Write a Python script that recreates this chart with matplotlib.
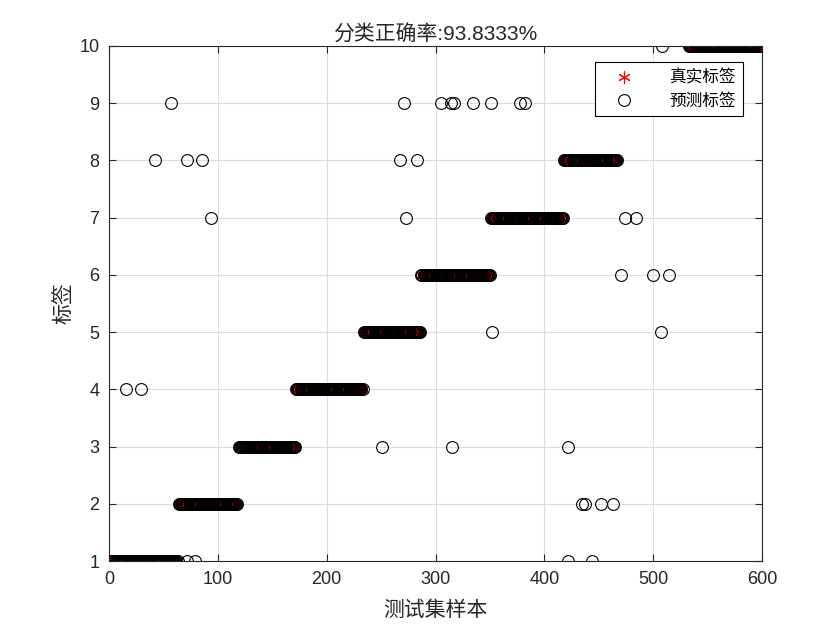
import numpy as np
import matplotlib
matplotlib.use('Agg')
import matplotlib.pyplot as plt

plt.rcParams['font.family'] = ['Liberation Sans', 'Noto Sans CJK SC', 'DejaVu Sans']

# true-label blocks (test samples are sorted by class)
seg_labels = [1, 2, 3, 4, 5, 6, 7, 8, 10]
seg_start = [1, 64, 119, 172, 234, 287, 351, 418, 533]
seg_end = [63, 118, 171, 233, 286, 350, 417, 467, 600]

# misclassified samples: index and predicted label
err_idx = [508, 57, 271, 305, 314, 317, 334, 351, 378, 382,
           42, 72, 85, 267, 283, 94, 273, 474, 484,
           470, 500, 515, 352, 507, 16, 29, 251, 315, 422,
           435, 437, 452, 463, 72, 79, 422, 444]
err_pred = [10, 9, 9, 9, 9, 9, 9, 9, 9, 9,
            8, 8, 8, 8, 8, 7, 7, 7, 7,
            6, 6, 6, 5, 5, 4, 4, 3, 3, 3,
            2, 2, 2, 2, 1, 1, 1, 1]

n_samples = 600
accuracy = 93.8333

x = np.arange(1, n_samples + 1)
true_lab = np.full(n_samples, np.nan)
for lab, s, e in zip(seg_labels, seg_start, seg_end):
    true_lab[s - 1:e] = lab

pred_lab = true_lab.copy()
ex = np.array(err_idx, dtype=float)
ey = np.array(err_pred, dtype=float)

fig = plt.figure(figsize=(8.4, 6.3), dpi=100)
ax = fig.add_axes([109 / 840, (630 - 561) / 630, 653 / 840, 515 / 630])

ax.plot(x, true_lab, linestyle='none', marker=(6, 2, 0), color='red',
        markersize=9, markeredgewidth=0.8, label='真实标签')
ax.plot(np.concatenate([x, ex]), np.concatenate([pred_lab, ey]), 'o',
        markerfacecolor='none', markeredgecolor='black', markersize=8.5,
        markeredgewidth=0.8, label='预测标签')

ax.set_xlim(0, 600)
ax.set_ylim(1, 10)
ax.set_xticks(range(0, 601, 100))
ax.set_yticks(range(1, 11))
ax.grid(True, color='#dcdcdc', linewidth=0.8)
ax.set_axisbelow(True)
ax.tick_params(direction='in', top=True, right=True, length=5, width=0.8,
               colors='#262626', labelsize=13, pad=7)
for sp in ax.spines.values():
    sp.set_color('#262626')
    sp.set_linewidth(0.8)

ax.set_title('分类正确率:%.4f%%' % accuracy, fontsize=15, color='#262626', pad=4)
ax.set_xlabel('测试集样本', fontsize=15, color='#262626', labelpad=9)
ax.set_ylabel('标签', fontsize=15, color='#262626', labelpad=4)

leg = ax.legend(loc='upper right', bbox_to_anchor=(0.971, 0.969), borderaxespad=0,
                fancybox=False, edgecolor='black', fontsize=12, handletextpad=1.4,
                framealpha=1, borderpad=0.45, labelspacing=0.45, handlelength=2.6)
leg.get_frame().set_linewidth(0.8)

fig.savefig('out.png', dpi=100)
